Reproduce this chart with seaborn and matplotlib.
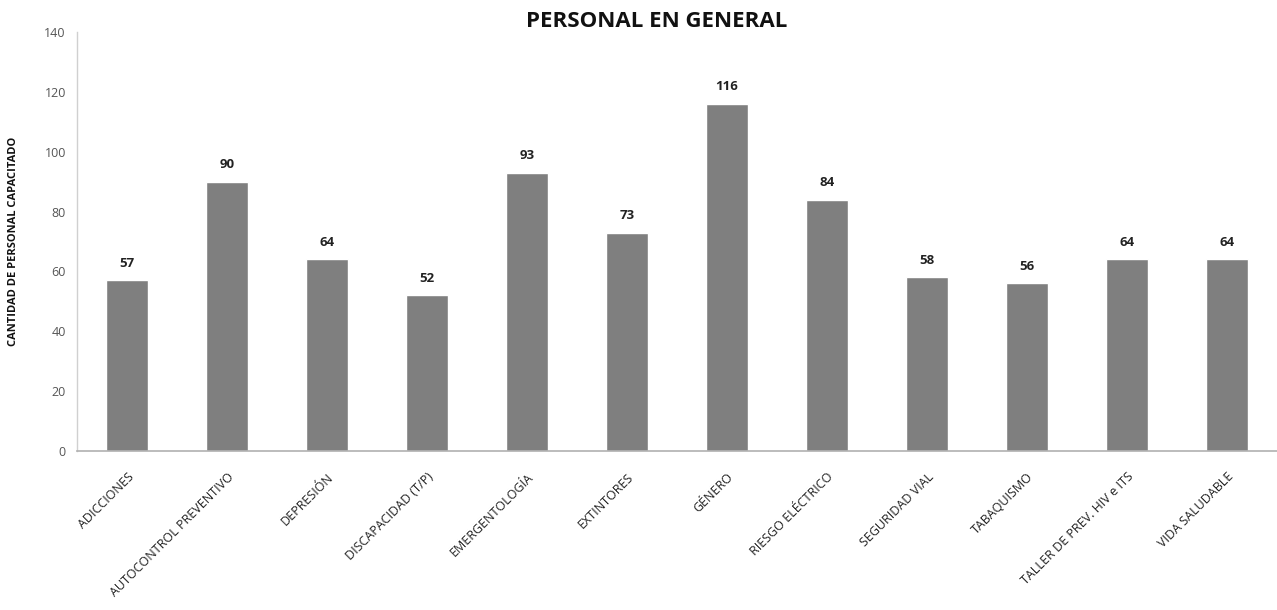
import numpy as np
import pandas as pd
import seaborn as sns
import matplotlib.pyplot as plt

categorias = ["ADICCIONES", "AUTOCONTROL PREVENTIVO", "DEPRESIÓN", "DISCAPACIDAD (T/P)",
              "EMERGENTOLOGÍA", "EXTINTORES", "GÉNERO", "RIESGO ELÉCTRICO",
              "SEGURIDAD VIAL", "TABAQUISMO", "TALLER DE PREV. HIV e ITS", "VIDA SALUDABLE"]
cantidades = [57, 90, 64, 52, 93, 73, 116, 84, 58, 56, 64, 64]
y_ticks = [0, 20, 40, 60, 80, 100, 120, 140]

sns.set_theme(style="white")
plt.rcParams['font.family'] = ['Open Sans', 'DejaVu Sans']

df = pd.DataFrame({"curso": categorias, "cantidad": cantidades})

fig = plt.figure(figsize=(12.77, 6.10), dpi=100)
ax = fig.add_axes([0.0603, 0.2607, 0.9397, 0.6868])

sns.barplot(data=df, x="curso", y="cantidad", color="#7f7f7f", width=0.42,
            saturation=1, ax=ax)

# etiquetas de valor sobre cada barra
for i, v in enumerate(cantidades):
    ax.text(i, v + 3.5, str(v), ha="center", va="bottom",
            fontsize=9.5, fontweight="bold", color="#222222")

ax.set_xlim(-0.5, len(categorias) - 0.5)
ax.set_ylim(0, 140)
ax.set_yticks(y_ticks)
ax.set_yticklabels([str(t) for t in y_ticks], fontsize=9, color="#555555")
ax.set_xticks(range(len(categorias)))
ax.set_xticklabels(categorias, rotation=45, ha="right", rotation_mode="anchor",
                   fontsize=9, color="#222222")
ax.tick_params(axis="both", length=0, pad=8)
ax.tick_params(axis="x", pad=14)

ax.set_xlabel("")
ax.set_ylabel("CANTIDAD DE PERSONAL CAPACITADO", fontsize=8, fontweight="bold",
              color="#111111", labelpad=18)

for s in ["top", "right"]:
    ax.spines[s].set_visible(False)
ax.spines["left"].set_color("#d0d0d0")
ax.spines["bottom"].set_color("#b0b0b0")
ax.spines["left"].set_linewidth(1)
ax.spines["bottom"].set_linewidth(1.2)

fig.text(0.5145, 0.965, "PERSONAL EN GENERAL", ha="center", va="center",
         fontsize=16, fontweight="bold", color="#111111")

fig.savefig("out.png", dpi=100)
